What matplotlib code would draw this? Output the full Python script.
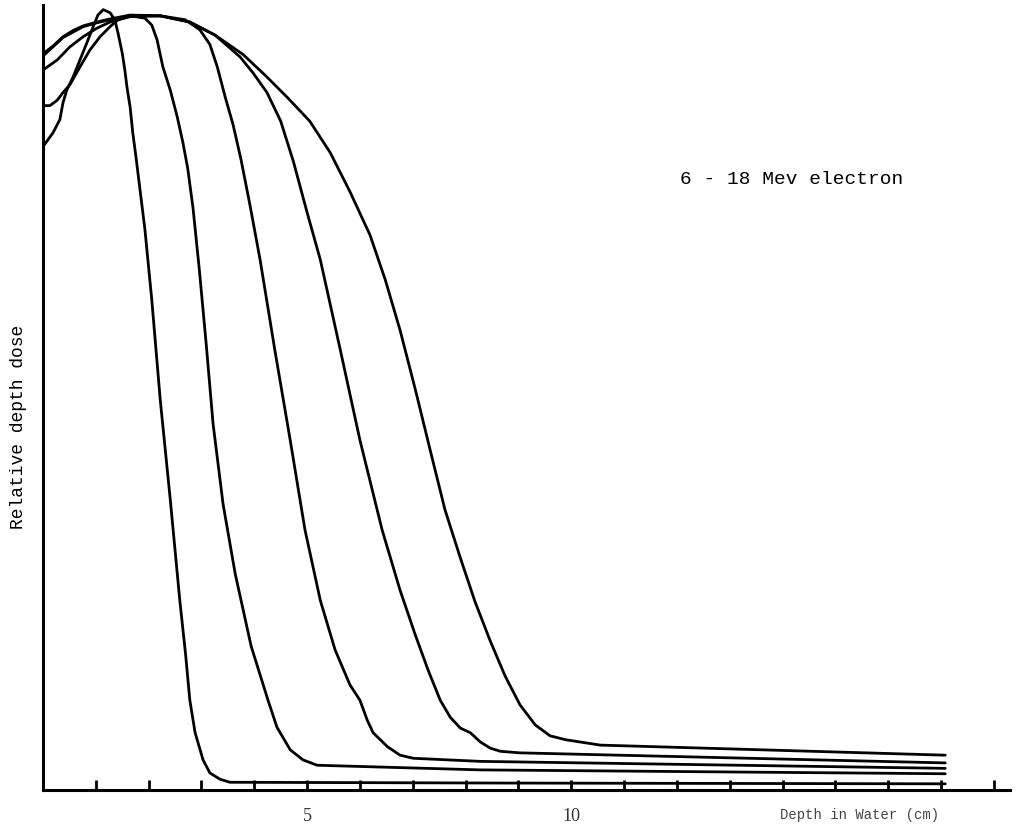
import numpy as np
import matplotlib
matplotlib.use("Agg")
import matplotlib.pyplot as plt

# ============================================================
# Data (depth in cm, relative dose in %)
# ============================================================

# 6 MeV
depth_6 = [0, 0.19, 0.32, 0.38, 0.45, 0.57, 0.70, 0.83, 0.95, 1.04, 1.14, 1.27, 1.36,
           1.42, 1.50, 1.55, 1.59, 1.65, 1.70, 1.76, 1.93, 2.06, 2.22, 2.41, 2.59,
           2.70, 2.78, 2.88, 3.03, 3.16, 3.35, 3.54, 8.66, 17.08]
dose_6 = [83.1, 84.9, 86.6, 88.8, 90.4, 92.1, 94.3, 96.5, 98.6, 100.1, 100.8, 100.4, 99.5,
          97.8, 95.2, 93.0, 90.8, 88.2, 84.9, 81.8, 72.4, 63.3, 50.4, 37.5, 24.5,
          17.5, 11.6, 7.4, 3.9, 2.2, 1.4, 1.0, 0.9, 0.8]

# 9 MeV
depth_9 = [0, 0.13, 0.27, 0.38, 0.51, 0.70, 0.89, 1.08, 1.27, 1.42, 1.65, 1.93, 2.06,
           2.16, 2.27, 2.41, 2.54, 2.65, 2.74, 2.84, 2.96, 3.09, 3.22, 3.41, 3.64,
           3.94, 4.26, 4.43, 4.68, 4.92, 5.19, 8.28, 17.08]
dose_9 = [88.4, 88.4, 89.1, 90.1, 91.1, 93.4, 95.6, 97.3, 98.6, 99.5, 100.0, 99.7, 98.8,
          96.9, 93.4, 90.4, 87.0, 83.6, 80.3, 75.2, 67.2, 57.6, 47.3, 36.9, 27.9,
          18.6, 11.6, 8.1, 5.2, 3.9, 3.2, 2.6, 2.1]

# 12 MeV
depth_12 = [0, 0.27, 0.51, 0.76, 1.02, 1.27, 1.65, 2.22, 2.69, 2.97, 3.16, 3.30, 3.45,
            3.60, 3.75, 3.92, 4.11, 4.39, 4.68, 4.96, 5.25, 5.53, 5.81, 6.00, 6.14,
            6.25, 6.52, 6.76, 7.01, 8.28, 17.08]
dose_12 = [93.0, 94.3, 96.0, 97.3, 98.4, 99.2, 99.9, 100.0, 99.5, 98.2, 96.3, 93.4, 89.5,
           85.9, 81.4, 75.5, 68.5, 56.8, 45.2, 33.6, 24.5, 18.1, 13.6, 11.6, 9.0,
           7.4, 5.6, 4.5, 4.1, 3.7, 2.8]

# 15 MeV
depth_15 = [0, 0.19, 0.38, 0.57, 0.76, 1.02, 1.27, 1.65, 2.22, 2.78, 3.26, 3.73, 3.98,
            4.24, 4.50, 4.74, 5.00, 5.25, 5.63, 6.00, 6.42, 6.76, 7.05, 7.29, 7.52,
            7.71, 7.90, 8.09, 8.28, 8.47, 8.66, 9.03, 17.08]
dose_15 = [94.8, 96.0, 97.2, 97.9, 98.6, 99.1, 99.5, 100.0, 100.0, 99.2, 97.5, 94.7, 92.6,
           90.1, 86.4, 81.2, 74.6, 68.5, 56.8, 45.2, 33.6, 25.8, 20.0, 15.5, 11.6,
           9.4, 8.0, 7.4, 6.2, 5.4, 5.0, 4.8, 3.5]

# 18 MeV
depth_18 = [0, 0.19, 0.38, 0.57, 0.76, 1.02, 1.27, 1.65, 2.22, 2.78, 3.26, 3.79, 4.24,
            4.62, 5.05, 5.44, 5.81, 6.19, 6.48, 6.76, 7.05, 7.33, 7.61, 7.90, 8.18,
            8.47, 8.75, 9.03, 9.32, 9.60, 9.89, 10.55, 17.08]
dose_18 = [95.1, 96.1, 97.3, 98.1, 98.7, 99.2, 99.6, 100.1, 100.0, 99.2, 97.5, 95.0, 92.1,
           89.5, 86.4, 82.3, 77.3, 71.7, 65.9, 59.4, 51.7, 43.9, 36.2, 30.0, 24.3,
           19.2, 14.7, 11.0, 8.4, 7.0, 6.5, 5.8, 4.5]

curves = [(depth_6, dose_6), (depth_9, dose_9), (depth_12, dose_12),
          (depth_15, dose_15), (depth_18, dose_18)]

tick_positions = list(range(1, 19))
tick_labels = ['5' if t == 5 else '10' if t == 10 else '' for t in tick_positions]

# ============================================================
# Plot
# ============================================================

fig = plt.figure(figsize=(10.23, 8.33), dpi=100)
ax = fig.add_axes([0.042, 0.0516, 0.945, 0.9424])

for d, v in curves:
    ax.plot(d, v, color='black', linewidth=2.0, solid_capstyle='round',
            solid_joinstyle='round')

ax.set_xlim(0, 18.3)
ax.set_ylim(0, 101.4)

for side in ['top', 'right']:
    ax.spines[side].set_visible(False)
for side in ['left', 'bottom']:
    ax.spines[side].set_linewidth(2.2)

ax.set_yticks([])
ax.set_xticks(tick_positions)
ax.set_xticklabels(tick_labels, family='Liberation Serif', fontsize=13,
                   color='#333333')
ax.tick_params(axis='x', direction='in', length=7, width=2, pad=13)

fig.text(0.665, 0.784, '6 - 18 Mev electron', family='Liberation Mono',
         fontsize=14, ha='left', va='center')
fig.text(0.0176, 0.487, 'Relative depth dose', family='Liberation Mono',
         fontsize=13, rotation=90, ha='center', va='center')
fig.text(0.840, 0.022, 'Depth in Water (cm)', family='Liberation Mono',
         fontsize=10, color='#444444', ha='center', va='center')

plt.savefig('out.png', dpi=100)
